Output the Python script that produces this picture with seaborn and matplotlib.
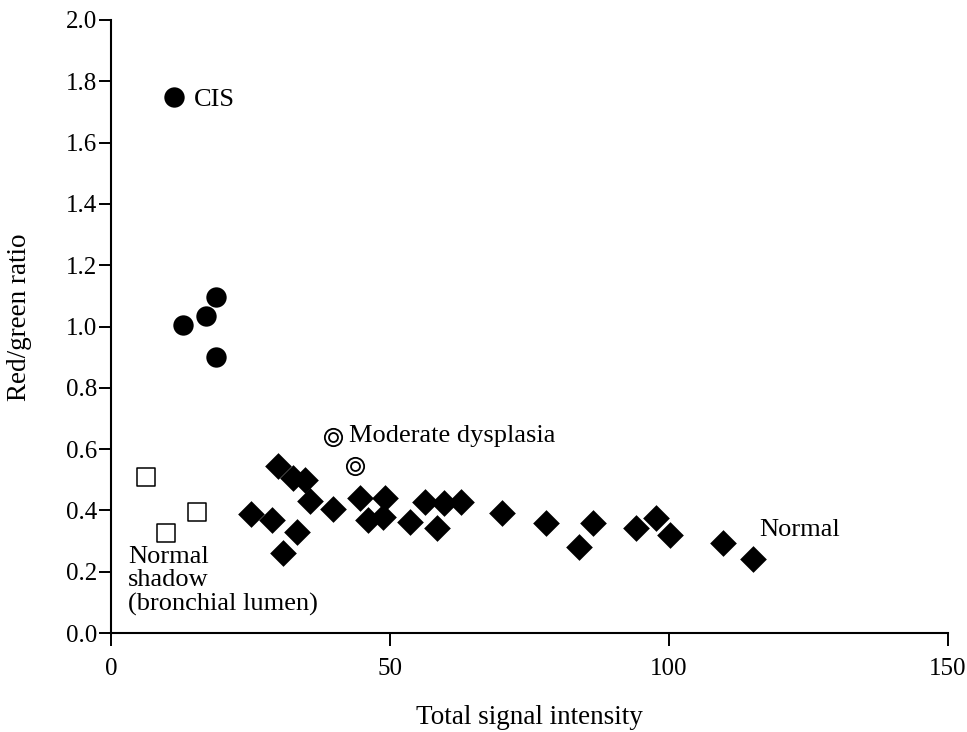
import numpy as np
import pandas as pd
import seaborn as sns
import matplotlib.pyplot as plt

# values
cis_x = [11.3, 12.9, 17.0, 18.8, 18.8]
cis_y = [1.75, 1.005, 1.035, 1.097, 0.90]

shadow_x = [6.2, 9.8, 15.4]
shadow_y = [0.51, 0.325, 0.396]

dysplasia_x = [39.7, 43.8]
dysplasia_y = [0.638, 0.545]

normal_x = [25.1, 28.8, 30.0, 30.9, 32.7, 33.3, 34.8, 35.7, 39.7, 44.7, 46.0, 49.1,
            48.8, 53.6, 56.3, 58.5, 59.7, 62.7, 70.0, 78.0, 83.9, 86.4, 94.1, 97.6,
            100.2, 109.7, 115.0]
normal_y = [0.388, 0.369, 0.545, 0.262, 0.505, 0.331, 0.50, 0.432, 0.405, 0.44, 0.369, 0.44,
            0.378, 0.363, 0.428, 0.342, 0.423, 0.428, 0.39, 0.358, 0.282, 0.358, 0.342, 0.374,
            0.32, 0.295, 0.24]

sns.set_style("ticks")
plt.rcParams['font.family'] = ['Liberation Serif', 'DejaVu Serif']
plt.rcParams['font.size'] = 19
plt.rcParams['text.color'] = 'black'
plt.rcParams['axes.labelcolor'] = 'black'

fig = plt.figure(figsize=(9.67, 7.32), dpi=100)
ax = fig.add_axes([0.1148, 0.1352, 0.8656, 0.8375])

df_cis = pd.DataFrame({'x': cis_x, 'y': cis_y})
df_sh = pd.DataFrame({'x': shadow_x, 'y': shadow_y})
df_dy = pd.DataFrame({'x': dysplasia_x, 'y': dysplasia_y})
df_n = pd.DataFrame({'x': normal_x, 'y': normal_y})

sns.scatterplot(data=df_n, x='x', y='y', marker='D', s=185, color='black',
                edgecolor='black', linewidth=0, ax=ax, zorder=3)
sns.scatterplot(data=df_cis, x='x', y='y', marker='o', s=215, color='black',
                edgecolor='black', linewidth=0, ax=ax, zorder=3)
sns.scatterplot(data=df_sh, x='x', y='y', marker='s', s=165, facecolor='white',
                edgecolor='black', linewidth=1.1, ax=ax, zorder=3)
sns.scatterplot(data=df_dy, x='x', y='y', marker='o', s=155, facecolor='white',
                edgecolor='black', linewidth=1.3, ax=ax, zorder=3)
sns.scatterplot(data=df_dy, x='x', y='y', marker='o', s=42, facecolor='white',
                edgecolor='black', linewidth=1.3, ax=ax, zorder=4)

ax.text(14.9, 1.74, 'CIS', va='center', ha='left')
ax.text(42.6, 0.643, 'Moderate dysplasia', va='center', ha='left')
ax.text(116.1, 0.336, 'Normal', va='center', ha='left')
ax.text(3.0, 0.285, 'Normal\nshadow\n(bronchial lumen)', va='top', ha='left',
        linespacing=1.1)

ax.set_xlim(0, 150)
ax.set_ylim(0, 2.0)
ax.set_xticks([0, 50, 100, 150])
ax.set_yticks(np.arange(0, 2.01, 0.2))
ax.set_yticklabels([f'{v:.1f}' for v in np.arange(0, 2.01, 0.2)])
ax.set_xlabel('Total signal intensity', fontsize=19.5)
ax.set_ylabel('Red/green ratio', fontsize=19.5)
ax.xaxis.set_label_coords(0.5, -0.118)
ax.yaxis.set_label_coords(-0.094, 0.515)

sns.despine(ax=ax)
for sp in ['left', 'bottom']:
    ax.spines[sp].set_linewidth(1.5)
    ax.spines[sp].set_color('black')
ax.tick_params(axis='both', length=9, width=1.4, direction='out', colors='black',
               labelsize=18)
ax.tick_params(axis='x', pad=9)
ax.tick_params(axis='y', pad=1)

fig.savefig('out.png', dpi=100)
